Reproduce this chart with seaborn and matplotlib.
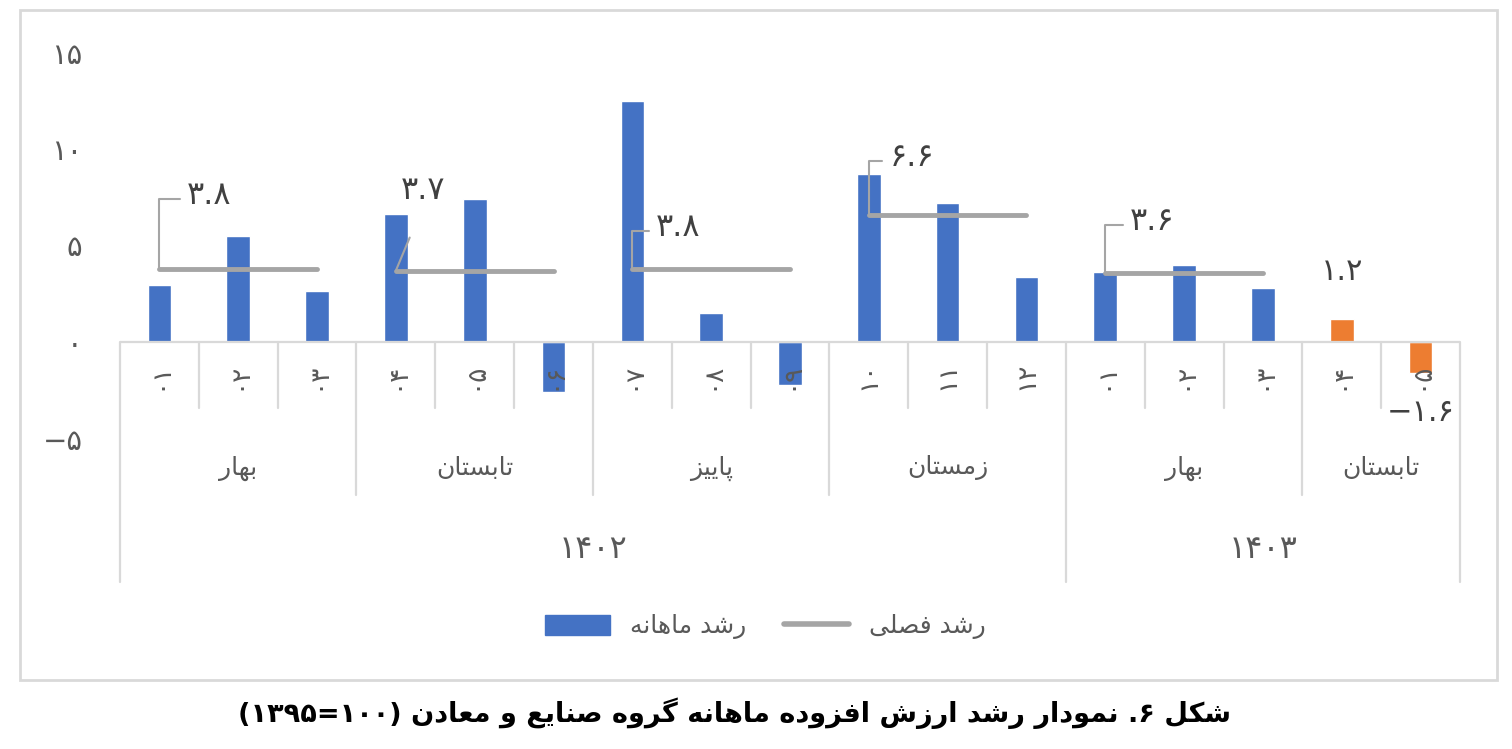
import re
import numpy as np
import pandas as pd
import matplotlib
matplotlib.use("Agg")
import matplotlib.pyplot as plt
import seaborn as sns
from matplotlib.patches import Patch, Rectangle
from matplotlib.lines import Line2D

# ---------------- data ----------------
month_labels = ["۰۱", "۰۲", "۰۳", "۰۴", "۰۵", "۰۶", "۰۷", "۰۸", "۰۹", "۱۰", "۱۱", "۱۲",
                "۰۱", "۰۲", "۰۳", "۰۴", "۰۵"]
monthly_growth = [2.95, 5.5, 2.64, 6.65, 7.41, -2.57, 12.49, 1.5, -2.23, 8.7, 7.2, 3.35,
                  3.65, 3.97, 2.78, 1.2, -1.6]
bar_kind = ["actual"] * 15 + ["estimate"] * 2
season_names = ["بهار", "تابستان", "پاییز", "زمستان", "بهار", "تابستان"]
season_first_month = [0, 3, 6, 9, 12, 15]
season_last_month = [2, 5, 8, 11, 14, 16]
season_growth = [3.8, 3.7, 3.8, 6.6, 3.6, None]
year_names = ["۱۴۰۲", "۱۴۰۳"]
year_first_month = [0, 12]
year_last_month = [11, 16]
ytick_values = [-5, 0, 5, 10, 15]
legend_labels = ["رشد ماهانه", "رشد فصلی"]
caption = "شکل ۶. نمودار رشد ارزش افزوده ماهانه گروه صنایع و معادن (۱۰۰=۱۳۹۵)"

# ---------------- Persian shaping helpers ----------------
FORMS = {
    'ا': ('\uFE8D', '\uFE8E', None, None),
    'آ': ('\uFE81', '\uFE82', None, None),
    'ب': ('\uFE8F', '\uFE90', '\uFE91', '\uFE92'),
    'پ': ('\uFB56', '\uFB57', '\uFB58', '\uFB59'),
    'ت': ('\uFE95', '\uFE96', '\uFE97', '\uFE98'),
    'د': ('\uFEA9', '\uFEAA', None, None),
    'ر': ('\uFEAD', '\uFEAE', None, None),
    'ز': ('\uFEAF', '\uFEB0', None, None),
    'س': ('\uFEB1', '\uFEB2', '\uFEB3', '\uFEB4'),
    'ش': ('\uFEB5', '\uFEB6', '\uFEB7', '\uFEB8'),
    'ص': ('\uFEB9', '\uFEBA', '\uFEBB', '\uFEBC'),
    'ع': ('\uFEC9', '\uFECA', '\uFECB', '\uFECC'),
    'ف': ('\uFED1', '\uFED2', '\uFED3', '\uFED4'),
    'ک': ('\uFB8E', '\uFB8F', '\uFB90', '\uFB91'),
    'گ': ('\uFB92', '\uFB93', '\uFB94', '\uFB95'),
    'ل': ('\uFEDD', '\uFEDE', '\uFEDF', '\uFEE0'),
    'م': ('\uFEE1', '\uFEE2', '\uFEE3', '\uFEE4'),
    'ن': ('\uFEE5', '\uFEE6', '\uFEE7', '\uFEE8'),
    'ه': ('\uFEE9', '\uFEEA', '\uFEEB', '\uFEEC'),
    'و': ('\uFEED', '\uFEEE', None, None),
    'ی': ('\uFBFC', '\uFBFD', '\uFBFE', '\uFBFF'),
}
DUAL = {c for c, f in FORMS.items() if f[2] is not None}
MIRROR = {'(': ')', ')': '('}
DIG = "0123456789۰۱۲۳۴۵۶۷۸۹"


def shape(s):
    out = []
    for i, c in enumerate(s):
        if c not in FORMS:
            out.append(c)
            continue
        prev = s[i - 1] if i > 0 else ''
        nxt = s[i + 1] if i + 1 < len(s) else ''
        cp = prev in DUAL
        cn = (c in DUAL) and (nxt in FORMS)
        f = FORMS[c]
        if cp and cn:
            out.append(f[3])
        elif cp:
            out.append(f[1])
        elif cn:
            out.append(f[2])
        else:
            out.append(f[0])
    return ''.join(out)


def fa(s):
    shaped = shape(s)
    tokens = re.findall(r'[0-9۰-۹]+(?:[.,][0-9۰-۹]+)*|[^0-9۰-۹]', shaped)
    out = []
    for t in reversed(tokens):
        if t[0] in DIG:
            out.append(t)
        else:
            out.append(MIRROR.get(t, t))
    return ''.join(out)


def fa_num(v):
    s = f"{abs(v):.1f}" if isinstance(v, float) else f"{abs(v)}"
    s = s.translate(str.maketrans("0123456789", "۰۱۲۳۴۵۶۷۸۹"))
    return ("−" if v < 0 else "") + s


# ---------------- style ----------------
sns.set_style("white")
plt.rcParams["font.family"] = ["DejaVu Sans"]
BLUE = "#4472C4"
ORANGE = "#ED7D31"
GRAY = "#A5A5A5"
GRID = "#D9D9D9"
TXT = "#595959"
LBL = "#404040"

W, H = 1512, 749
fig = plt.figure(figsize=(W / 100, H / 100), dpi=100)
ax = fig.add_axes([120 / W, (H - 438.5) / H, 1340 / W, 386 / H])

df = pd.DataFrame({"pos": np.arange(len(monthly_growth)), "value": monthly_growth, "kind": bar_kind})
sns.barplot(data=df, x="pos", y="value", hue="kind", palette={"actual": BLUE, "estimate": ORANGE},
            dodge=False, width=0.3, legend=False, ax=ax, saturation=1)

# seasonal lines
rows = []
for k, g in enumerate(season_growth):
    if g is None:
        continue
    rows.append({"season": k, "x": season_first_month[k], "y": g})
    rows.append({"season": k, "x": season_last_month[k], "y": g})
sdf = pd.DataFrame(rows)
for k, grp in sdf.groupby("season"):
    ax.plot(grp["x"], grp["y"], color=GRAY, lw=3.5, solid_capstyle="round", zorder=4)

ax.set_xlim(-0.5, len(monthly_growth) - 0.5)
ax.set_ylim(-5, 15)
ax.set_yticks(ytick_values)
ax.set_yticklabels([fa_num(v) for v in ytick_values], fontsize=21, color=TXT)
ax.tick_params(axis="y", length=0, pad=27)
ax.set_xticks([])
ax.set_xlabel("")
ax.set_ylabel("")
for sp in ax.spines.values():
    sp.set_visible(False)

# category axis (multi-level)
px = 19.3
zero_px = 342.0
def py(p):
    return (zero_px - p) / px

ax.axhline(0, color=GRID, lw=1.6, zorder=1)
n = len(monthly_growth)
season_bounds = set(season_first_month) | {n}
year_bounds = set(year_first_month) | {n}
for b in range(n + 1):
    if b in year_bounds:
        bottom = py(582)
    elif b in season_bounds:
        bottom = py(495)
    else:
        bottom = py(408)
    ax.plot([b - 0.5, b - 0.5], [0, bottom], color=GRID, lw=1.6, clip_on=False, zorder=1)

for i, lab in enumerate(month_labels):
    ax.text(i, py(376), lab, rotation=90, ha="center", va="center", fontsize=19, color=TXT, clip_on=False)
for k, name in enumerate(season_names):
    xc = (season_first_month[k] + season_last_month[k]) / 2
    ax.text(xc, py(468), fa(name), ha="center", va="center", fontsize=18, color=TXT, clip_on=False)
for k, name in enumerate(year_names):
    xc = (year_first_month[k] + year_last_month[k]) / 2
    ax.text(xc, py(549), name, ha="center", va="center", fontsize=23, color=TXT, clip_on=False)

# seasonal data labels with leader lines
label_offsets = [(50, 73), (27, 80), (46, 41), (43, 57), (47, 51)]
for k, g in enumerate(season_growth):
    if g is None:
        continue
    dx, dy = label_offsets[k]
    if k == 1:
        arrow = dict(arrowstyle="-", color=GRAY, lw=1.5, shrinkA=22, shrinkB=0,
                     relpos=(0.5, 0.0))
    else:
        arrow = dict(arrowstyle="-", color=GRAY, lw=1.5, shrinkA=3, shrinkB=0,
                     connectionstyle="angle,angleA=180,angleB=90,rad=0", relpos=(0.0, 0.4))
    ax.annotate(fa_num(g), xy=(season_first_month[k], g), xytext=(dx, dy),
                textcoords="offset pixels", ha="center", va="center", fontsize=23,
                color=LBL, arrowprops=arrow, zorder=5)

# labels for estimated bars
for i, v in enumerate(monthly_growth):
    if bar_kind[i] != "estimate":
        continue
    off = (0, 47) if v > 0 else (0, -40)
    ax.annotate(fa_num(v), xy=(i, v), xytext=off, textcoords="offset pixels",
                ha="center", va="center", fontsize=22, color=LBL)

# legend
handles = [Patch(facecolor=BLUE, edgecolor=BLUE),
           Line2D([0], [0], color=GRAY, lw=4, solid_capstyle="round")]
fig.legend(handles, [fa(l) for l in legend_labels], loc="center", bbox_to_anchor=(0.506, 0.163),
           ncol=2, frameon=False, fontsize=18, labelcolor=TXT, handlelength=2.6,
           handleheight=0.85, handletextpad=0.8, columnspacing=1.5)

# outer border
fig.patches.append(Rectangle((20 / W, (H - 680) / H), 1477 / W, 670 / H, transform=fig.transFigure,
                             fill=False, edgecolor=GRID, lw=2))

fig.text(734 / W, (H - 713) / H, fa(caption), ha="center", va="center", fontsize=19.5,
         fontweight="bold", color="black")

fig.savefig("out.png", dpi=100)
